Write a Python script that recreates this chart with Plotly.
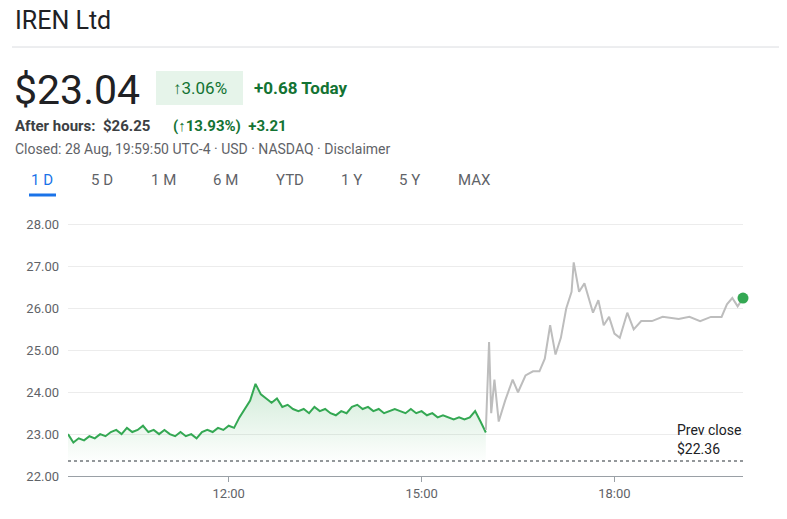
import plotly.graph_objects as go

reg_times = ["09:30","09:35","09:40","09:45","09:50","09:55","10:00","10:05","10:10","10:15","10:20","10:25","10:30","10:35","10:40","10:45","10:50","10:55","11:00","11:05","11:10","11:15","11:20","11:25","11:30","11:35","11:40","11:45","11:50","11:55","12:00","12:05","12:10","12:15","12:20","12:25","12:30","12:35","12:40","12:45","12:50","12:55","13:00","13:05","13:10","13:15","13:20","13:25","13:30","13:35","13:40","13:45","13:50","13:55","14:00","14:05","14:10","14:15","14:20","14:25","14:30","14:35","14:40","14:45","14:50","14:55","15:00","15:05","15:10","15:15","15:20","15:25","15:30","15:35","15:40","15:45","15:50","15:55","16:00"]
reg_prices = [23.0,22.8,22.9,22.85,22.95,22.9,23.0,22.95,23.05,23.1,23.0,23.15,23.05,23.1,23.2,23.05,23.1,23.0,23.1,23.0,22.95,23.05,22.95,23.0,22.9,23.05,23.1,23.05,23.15,23.1,23.2,23.15,23.4,23.6,23.8,24.2,23.95,23.85,23.75,23.85,23.65,23.7,23.6,23.55,23.6,23.5,23.65,23.55,23.6,23.5,23.45,23.55,23.5,23.65,23.7,23.6,23.65,23.55,23.6,23.5,23.55,23.6,23.55,23.5,23.6,23.5,23.55,23.45,23.5,23.4,23.45,23.4,23.35,23.4,23.35,23.4,23.55,23.3,23.04]

ah_times = ["16:00","16:03","16:05","16:08","16:12","16:18","16:25","16:30","16:37","16:44","16:50","16:55","17:00","17:05","17:10","17:15","17:20","17:22","17:27","17:32","17:40","17:45","17:50","17:55","18:00","18:05","18:12","18:18","18:25","18:35","18:45","19:00","19:10","19:20","19:30","19:40","19:45","19:50","19:55","20:00"]
ah_prices = [23.1,25.2,23.5,24.3,23.3,23.8,24.3,24.0,24.4,24.5,24.5,24.8,25.6,24.9,25.3,26.0,26.4,27.1,26.4,26.6,25.9,26.2,25.6,25.8,25.4,25.3,25.9,25.5,25.7,25.7,25.8,25.75,25.8,25.7,25.8,25.8,26.1,26.25,26.05,26.25]

prev_close = 22.36
y_ticks = [22, 23, 24, 25, 26, 27, 28]

def ts(t):
    return "2025-08-28 " + t

fig = go.Figure()
fig.add_trace(go.Scatter(x=[ts(t) for t in reg_times], y=reg_prices, mode="lines",
    line=dict(color="#34a853", width=2), fill="tozeroy",
    fillgradient=dict(type="vertical", start=22.3, stop=24.2,
                      colorscale=[[0, "rgba(52,168,83,0.0)"], [1, "rgba(52,168,83,0.22)"]]),
    hoverinfo="skip"))
fig.add_trace(go.Scatter(x=[ts(t) for t in ah_times], y=ah_prices, mode="lines",
    line=dict(color="#bdbdbd", width=2), hoverinfo="skip"))
fig.add_trace(go.Scatter(x=[ts(ah_times[-1])], y=[ah_prices[-1]], mode="markers",
    marker=dict(color="#34a853", size=11), hoverinfo="skip", cliponaxis=False))
fig.add_trace(go.Scatter(x=[ts("09:30"), ts("20:00")], y=[prev_close, prev_close], mode="lines",
    line=dict(color="#70757a", width=1.5, dash="dot"), hoverinfo="skip"))

OFF = 8
L, R, T, B = 68 - OFF, 743 - OFF, 208 - OFF, 476 - OFF
W, H = 787, 519
def px(x): return (x - OFF - L) / (R - L)
def py(y): return (B - (y - OFF)) / (B - T)

ann = []
def txt(x, y, s, size=14, color="#202124", anchor="left"):
    ann.append(dict(x=px(x), y=py(y), xref="paper", yref="paper", text=s, showarrow=False,
                    xanchor=anchor, yanchor="middle", font=dict(size=size, color=color)))

txt(13, 20, "IREN Ltd", 25)
txt(12, 90, "$23.04", 41)
txt(200, 88, "↑3.06%", 17, "#137333", "center")
txt(252, 88, "<b>+0.68 Today</b>", 17, "#137333")
txt(13, 126, "<b>After hours:</b>  <b>$26.25</b>", 15, "#3c4043")
txt(171, 126, "<b>(↑13.93%)</b>  <b>+3.21</b>", 15, "#137333")
txt(13, 149, "Closed: 28 Aug, 19:59:50 UTC-4 · USD · NASDAQ · Disclaimer", 14, "#5f6368")
tabs = [("1 D", 42), ("5 D", 102), ("1 M", 163), ("6 M", 225), ("YTD", 290), ("1 Y", 351), ("5 Y", 409), ("MAX", 474)]
for i, (t, x) in enumerate(tabs):
    txt(x, 180, t, 15, "#1a73e8" if i == 0 else "#5f6368", "center")
txt(675, 430, "Prev close", 14, "#202124")
txt(675, 449, "$22.36", 14, "#202124")

shapes = [
    dict(type="line", xref="paper", yref="paper", x0=px(12), x1=px(787), y0=py(47), y1=py(47), line=dict(color="#dadce0", width=1)),
    dict(type="rect", xref="paper", yref="paper", x0=px(156), x1=px(243), y0=py(71), y1=py(105), fillcolor="#e6f4ea", line=dict(width=0), layer="below"),
    dict(type="line", xref="paper", yref="paper", x0=px(29), x1=px(56), y0=py(195), y1=py(195), line=dict(color="#1a73e8", width=3)),
]

fig.update_layout(
    width=W, height=H, margin=dict(l=L, r=W - R, t=T, b=H - B, autoexpand=False),
    paper_bgcolor="white", plot_bgcolor="white", showlegend=False,
    font=dict(family="Roboto, Arial", color="#202124"),
    annotations=ann, shapes=shapes,
    xaxis=dict(type="date", range=[ts("09:30"), ts("20:00")], tickformat="%H:%M",
               tickvals=[ts("12:00"), ts("15:00"), ts("18:00")], showgrid=False,
               ticks="outside", ticklen=5, tickcolor="#9aa0a6", tickfont=dict(size=13, color="#5f6368"),
               showline=True, linecolor="#9aa0a6", linewidth=1, automargin=False),
    yaxis=dict(range=[22, 28.4], tickvals=y_ticks, tickformat=".2f", gridcolor="#ececec",
               zeroline=False, tickfont=dict(size=13, color="#5f6368"), ticklabelstandoff=8, automargin=False),
)
fig.write_html("out.html")
